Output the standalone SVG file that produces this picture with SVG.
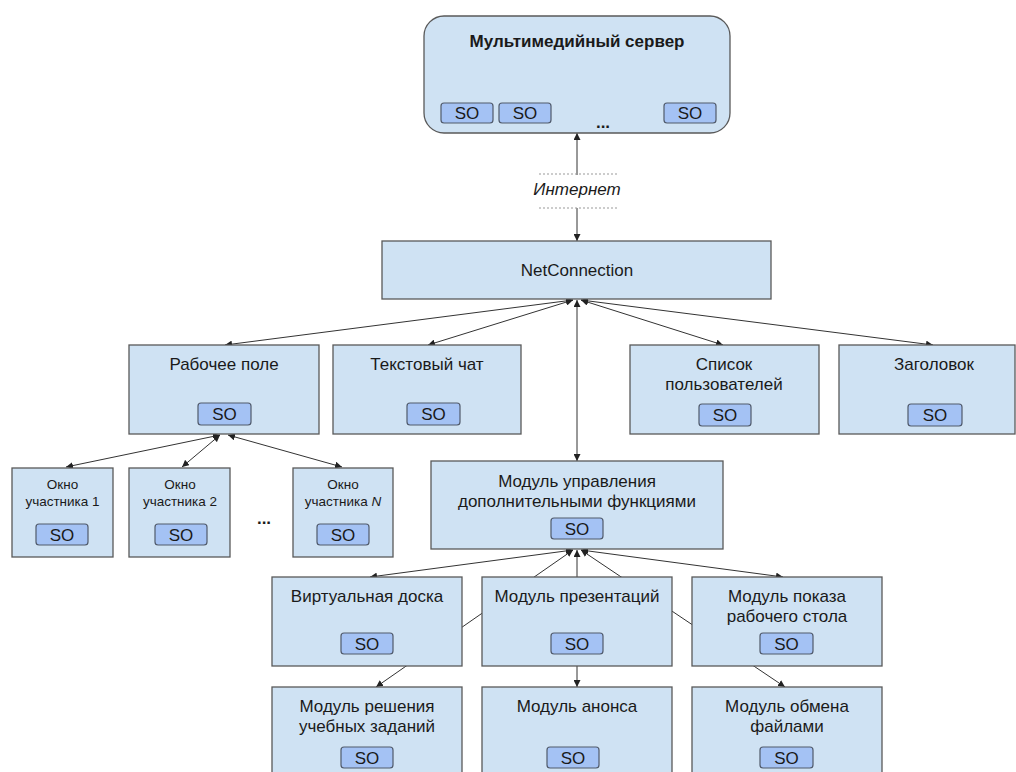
<svg xmlns="http://www.w3.org/2000/svg" width="1016" height="772" viewBox="0 0 1016 772">
  <style>
    .box { fill: #cfe2f3; stroke: #595959; stroke-width: 1.3; }
    .so { fill: #a4c2f4; stroke: #505a6b; stroke-width: 1.2; }
    .t { font-family: "Liberation Sans", Arial, sans-serif; font-size: 17px; fill: #1a1a1a; text-anchor: middle; }
    .s { font-family: "Liberation Sans", Arial, sans-serif; font-size: 13.5px; fill: #1a1a1a; text-anchor: middle; }
    .b { font-weight: bold; }
    .link { stroke: #333; stroke-width: 1; fill: none; }
    .dot { stroke: #999; stroke-width: 1; stroke-dasharray: 2 2; fill: none; }
  </style>
  <defs>
    <marker id="head" viewBox="0 0 10 10" refX="10" refY="5" markerWidth="7" markerHeight="7" markerUnits="userSpaceOnUse" orient="auto-start-reverse">
      <path d="M0,0 L10,5 L0,10 z" fill="#222"/>
    </marker>
  </defs>
  <rect width="1016" height="772" fill="#ffffff"/>

  <!-- connectors -->
  <g id="connectors">
    <line class="link" x1="577" y1="133" x2="577" y2="175" marker-start="url(#head)"/>
    <line class="link" x1="577" y1="208" x2="577" y2="241" marker-end="url(#head)"/>
    <line class="dot" x1="539" y1="174" x2="618" y2="174"/>
    <line class="dot" x1="539" y1="208" x2="618" y2="208"/>

    <line class="link" x1="573" y1="300" x2="225" y2="345" marker-start="url(#head)" marker-end="url(#head)"/>
    <line class="link" x1="573" y1="300" x2="428" y2="345" marker-start="url(#head)" marker-end="url(#head)"/>
    <line class="link" x1="581" y1="300" x2="723" y2="345" marker-start="url(#head)" marker-end="url(#head)"/>
    <line class="link" x1="581" y1="300" x2="933" y2="345" marker-start="url(#head)" marker-end="url(#head)"/>
    <line class="link" x1="577" y1="300" x2="577" y2="461" marker-start="url(#head)" marker-end="url(#head)"/>

    <line class="link" x1="220" y1="435" x2="66" y2="467" marker-start="url(#head)" marker-end="url(#head)"/>
    <line class="link" x1="220" y1="435" x2="182" y2="467" marker-start="url(#head)" marker-end="url(#head)"/>
    <line class="link" x1="228" y1="435" x2="342" y2="467" marker-start="url(#head)" marker-end="url(#head)"/>

    <line class="link" x1="573" y1="550" x2="370" y2="577" marker-start="url(#head)" marker-end="url(#head)"/>
    <line class="link" x1="581" y1="550" x2="783" y2="577" marker-start="url(#head)" marker-end="url(#head)"/>
    <line class="link" x1="573" y1="550" x2="376" y2="687" marker-start="url(#head)" marker-end="url(#head)"/>
    <line class="link" x1="577" y1="550" x2="577" y2="687" marker-start="url(#head)" marker-end="url(#head)"/>
    <line class="link" x1="581" y1="550" x2="785" y2="687" marker-start="url(#head)" marker-end="url(#head)"/>
  </g>

  <!-- media server -->
  <g id="server">
    <rect x="424" y="16" width="306" height="117" rx="20" class="box" stroke="#444"/>
    <text x="577" y="47" class="t b">Мультимедийный сервер</text>
    <rect x="441" y="103" width="52" height="20" rx="3" class="so"/>
    <text x="467" y="119" class="t">SO</text>
    <rect x="499" y="103" width="52" height="20" rx="3" class="so"/>
    <text x="525" y="119" class="t">SO</text>
    <rect x="664" y="103" width="52" height="20" rx="3" class="so"/>
    <text x="690" y="119" class="t">SO</text>
    <text x="603" y="128" class="t b">...</text>
  </g>

  <g id="internet">
    <text x="577" y="195" class="t" font-size="15px" font-style="italic">Интернет</text>
  </g>

  <g id="netconnection">
    <rect x="382" y="241" width="389" height="58" class="box"/>
    <text x="577" y="276" class="t">NetConnection</text>
  </g>

  <g id="workspace">
    <rect x="129" y="345" width="190" height="89" class="box"/>
    <text x="224" y="370" class="t">Рабочее поле</text>
    <rect x="198" y="403" width="53" height="22" rx="3" class="so"/>
    <text x="224.5" y="420" class="t">SO</text>
  </g>

  <g id="chat">
    <rect x="333" y="345" width="188" height="89" class="box"/>
    <text x="427" y="370" class="t">Текстовый чат</text>
    <rect x="407" y="403" width="53" height="22" rx="3" class="so"/>
    <text x="433.5" y="420" class="t">SO</text>
  </g>

  <g id="userlist">
    <rect x="630" y="345" width="189" height="89" class="box"/>
    <text x="724" y="370" class="t">Список</text>
    <text x="724" y="390" class="t">пользователей</text>
    <rect x="699" y="404" width="52" height="22" rx="3" class="so"/>
    <text x="725" y="421" class="t">SO</text>
  </g>

  <g id="title">
    <rect x="839" y="345" width="176" height="89" class="box"/>
    <text x="934" y="370" class="t">Заголовок</text>
    <rect x="908" y="404" width="54" height="22" rx="3" class="so"/>
    <text x="935" y="421" class="t">SO</text>
  </g>

  <g id="window1">
    <rect x="12" y="468" width="101" height="89" class="box"/>
    <text x="62.5" y="489" class="s">Окно</text>
    <text x="62.5" y="506" class="s">участника 1</text>
    <rect x="36" y="524" width="52" height="21" rx="3" class="so"/>
    <text x="62" y="541" class="t">SO</text>
  </g>

  <g id="window2">
    <rect x="129" y="468" width="101" height="89" class="box"/>
    <text x="180" y="489" class="s">Окно</text>
    <text x="180" y="506" class="s">участника 2</text>
    <rect x="155" y="524" width="52" height="21" rx="3" class="so"/>
    <text x="181" y="541" class="t">SO</text>
  </g>

  <g id="ellipsis">
    <text x="264" y="524" class="t b">...</text>
  </g>

  <g id="windowN">
    <rect x="293" y="468" width="100" height="89" class="box"/>
    <text x="343" y="489" class="s">Окно</text>
    <text x="343" y="506" class="s">участника <tspan font-style="italic">N</tspan></text>
    <rect x="317" y="524" width="52" height="21" rx="3" class="so"/>
    <text x="343" y="541" class="t">SO</text>
  </g>

  <g id="extras">
    <rect x="431" y="461" width="292" height="88" class="box"/>
    <text x="577" y="487" class="t">Модуль управления</text>
    <text x="577" y="507" class="t">дополнительными функциями</text>
    <rect x="551" y="518" width="52" height="21" rx="3" class="so"/>
    <text x="577" y="535" class="t">SO</text>
  </g>

  <g id="whiteboard">
    <rect x="272" y="577" width="190" height="89" class="box"/>
    <text x="367" y="602" class="t">Виртуальная доска</text>
    <rect x="341" y="633" width="52" height="21" rx="3" class="so"/>
    <text x="367" y="650" class="t">SO</text>
  </g>

  <g id="presentations">
    <rect x="482" y="577" width="190" height="89" class="box"/>
    <text x="577" y="602" class="t">Модуль презентаций</text>
    <rect x="551" y="633" width="52" height="21" rx="3" class="so"/>
    <text x="577" y="650" class="t">SO</text>
  </g>

  <g id="screenshare">
    <rect x="692" y="577" width="190" height="89" class="box"/>
    <text x="787" y="602" class="t">Модуль показа</text>
    <text x="787" y="622" class="t">рабочего стола</text>
    <rect x="760" y="633" width="53" height="21" rx="3" class="so"/>
    <text x="786.5" y="650" class="t">SO</text>
  </g>

  <g id="tasks">
    <rect x="272" y="687" width="190" height="100" class="box"/>
    <text x="367" y="712" class="t">Модуль решения</text>
    <text x="367" y="732" class="t">учебных заданий</text>
    <rect x="341" y="747" width="52" height="21" rx="3" class="so"/>
    <text x="367" y="764" class="t">SO</text>
  </g>

  <g id="announce">
    <rect x="482" y="687" width="190" height="100" class="box"/>
    <text x="577" y="712" class="t">Модуль анонса</text>
    <rect x="547" y="747" width="52" height="21" rx="3" class="so"/>
    <text x="573" y="764" class="t">SO</text>
  </g>

  <g id="files">
    <rect x="692" y="687" width="190" height="100" class="box"/>
    <text x="787" y="712" class="t">Модуль обмена</text>
    <text x="787" y="732" class="t">файлами</text>
    <rect x="760" y="747" width="53" height="21" rx="3" class="so"/>
    <text x="786.5" y="764" class="t">SO</text>
  </g>
</svg>
